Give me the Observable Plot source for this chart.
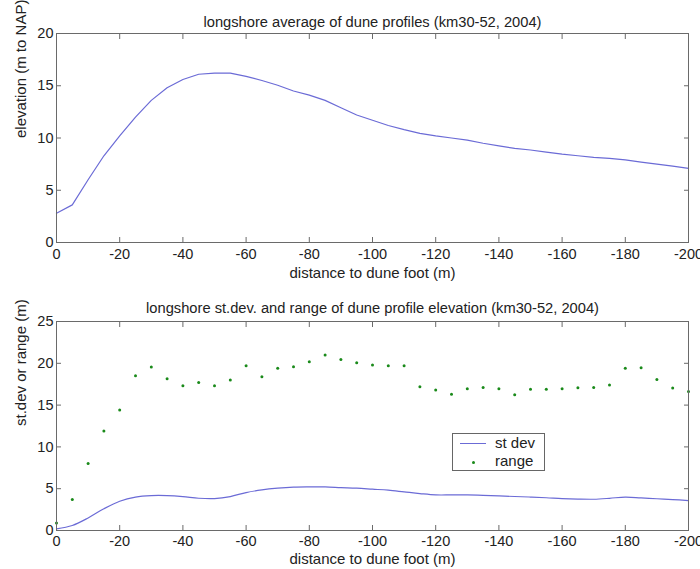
<!DOCTYPE html>
<html><head><meta charset="utf-8">
<script src="https://cdn.jsdelivr.net/npm/d3@7"></script>
<script src="https://cdn.jsdelivr.net/npm/@observablehq/plot@0.6"></script>
<style>
body{margin:0;background:#fff;}
#wrap{position:relative;width:700px;height:569px;font-family:"Liberation Sans",Arial,sans-serif;overflow:hidden;}
#wrap svg{display:block;}
#p1{position:absolute;left:0;top:0}
#p2{position:absolute;left:0;top:285px}
.legend{position:absolute;left:452px;top:433px;width:91px;height:36px;border:1px solid #666;background:#fff;font-size:15px;color:#222;}
.legend .t{position:absolute;line-height:16px;}
</style></head><body>
<div id="wrap"><div id="p1"></div><div id="p2"></div>
<div class="legend">
  <div style="position:absolute;left:7px;top:9px;width:26px;height:1px;background:#6b6bd6"></div>
  <div class="t" style="left:42px;top:1px">st dev</div>
  <div style="position:absolute;left:19px;top:27px;width:3px;height:3px;border-radius:50%;background:#1a8a1a"></div>
  <div class="t" style="left:42px;top:19px">range</div>
</div>
</div>
<script>
const distance = [0,-5,-10,-15,-20,-25,-30,-35,-40,-45,-50,-55,-60,-65,-70,-75,-80,-85,-90,-95,-100,-105,-110,-115,-120,-125,-130,-135,-140,-145,-150,-155,-160,-165,-170,-175,-180,-185,-190,-195,-200];
const elevation = [2.8,3.6,6.0,8.3,10.2,12.0,13.6,14.8,15.6,16.1,16.2,16.2,15.9,15.5,15.05,14.5,14.1,13.6,12.9,12.2,11.7,11.2,10.8,10.45,10.2,10.0,9.8,9.5,9.25,9.0,8.85,8.65,8.45,8.3,8.15,8.05,7.9,7.7,7.5,7.3,7.1];
const stdev = [0.2,0.6,1.5,2.6,3.5,4.0,4.18,4.18,4.06,3.86,3.82,4.06,4.54,4.86,5.06,5.18,5.21,5.21,5.13,5.06,4.94,4.82,4.62,4.42,4.26,4.26,4.26,4.2,4.14,4.07,4.0,3.92,3.82,3.76,3.74,3.85,4.0,3.9,3.8,3.7,3.58];
const range = [0.9,3.7,8.0,11.9,14.4,18.5,19.55,18.15,17.3,17.7,17.3,18.0,19.7,18.4,19.4,19.6,20.2,21.0,20.45,20.06,19.8,19.7,19.7,17.2,16.8,16.3,16.96,17.1,16.96,16.24,16.9,16.9,16.96,17.08,17.1,17.4,19.4,19.47,18.07,17.04,16.64];
const xTicks = [0,-20,-40,-60,-80,-100,-120,-140,-160,-180,-200];
const yTicksTop = [0,5,10,15,20];
const yTicksBottom = [0,5,10,15,20,25];
const title1 = "longshore average of dune profiles (km30-52, 2004)";
const title2 = "longshore st.dev. and range of dune profile elevation (km30-52, 2004)";
const xLabel = "distance to dune foot (m)";
const yLabel1 = "elevation (m to NAP)";
const yLabel2 = "st.dev or range (m)";

const rows = distance.map((d,i)=>({d, elev: elevation[i], sd: stdev[i], rg: range[i]}));
const axisColor = "#6a6a6a";
const textColor = "#222";
const font = "Liberation Sans, Arial, sans-serif";

function frameAxes(yTicks, xPad){
  return [
    Plot.frame({stroke: axisColor}),
    Plot.axisX({anchor:"bottom", ticks:xTicks, tickSize:-5, tickPadding:xPad, tickFormat:d=>String(d), stroke:axisColor, fill:textColor, label:null, fontSize:14.5}),
    Plot.axisX({anchor:"top", ticks:xTicks, tickSize:-5, tickFormat:()=>"", stroke:axisColor, label:null}),
    Plot.axisY({anchor:"left", ticks:yTicks, tickSize:-5, tickPadding:8, tickFormat:d=>String(d), stroke:axisColor, fill:textColor, label:null, fontSize:14.5}),
    Plot.axisY({anchor:"right", ticks:yTicks, tickSize:-5, tickFormat:()=>"", stroke:axisColor, label:null})
  ];
}

const p1 = Plot.plot({
  width:700, height:285, marginLeft:56, marginRight:12, marginTop:33, marginBottom:43,
  style:{fontFamily:font, color:textColor, background:"#fff"},
  x:{domain:[0,-200]}, y:{domain:[0,20]},
  marks:[
    Plot.line(rows, {x:"d", y:"elev", stroke:"#6b6bd6", strokeWidth:1.2}),
    ...frameAxes(yTicksTop, 11),
    Plot.text([title1], {frameAnchor:"top", dy:-17, fontSize:14.7, fill:textColor}),
    Plot.text([xLabel], {frameAnchor:"bottom", dy:35, fontSize:15, fill:textColor}),
    Plot.text([yLabel1], {frameAnchor:"left", dx:-35, rotate:-90, fontSize:15, fill:textColor})
  ]
});
document.getElementById("p1").appendChild(p1);

const p2 = Plot.plot({
  width:700, height:284, marginLeft:56, marginRight:12, marginTop:36, marginBottom:39,
  style:{fontFamily:font, color:textColor, background:"#fff"},
  x:{domain:[0,-200]}, y:{domain:[0,25]},
  marks:[
    Plot.line(rows, {x:"d", y:"sd", stroke:"#6b6bd6", strokeWidth:1.2, curve:"catmull-rom"}),
    Plot.dot(rows, {x:"d", y:"rg", r:1.5, fill:"#1a8a1a", stroke:"none"}),
    ...frameAxes(yTicksBottom, 10),
    Plot.text([title2], {frameAnchor:"top", dy:-19, fontSize:14.7, fill:textColor}),
    Plot.text([xLabel], {frameAnchor:"bottom", dy:33, fontSize:15, fill:textColor}),
    Plot.text([yLabel2], {frameAnchor:"left", dx:-35, rotate:-90, fontSize:15, fill:textColor})
  ]
});
document.getElementById("p2").appendChild(p2);
</script>
</body></html>
